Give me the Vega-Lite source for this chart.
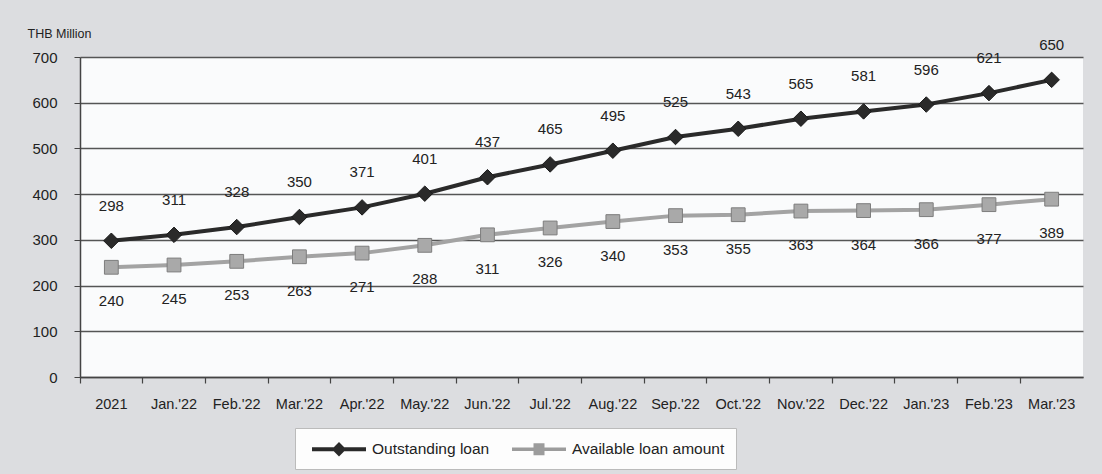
{
  "$schema": "https://vega.github.io/schema/vega-lite/v6.json",
  "width": 1003,
  "height": 320,
  "autosize": {"type": "none"},
  "padding": {"left": 80, "top": 57, "right": 19, "bottom": 97},
  "background": "#dcdde0",
  "config": {
    "font": "Liberation Sans",
    "view": {"fill": "#fafbfc", "stroke": null}
  },
  "data": {
    "values": [
      {"period": "2021", "series": "Outstanding loan", "value": 298},
      {"period": "Jan.'22", "series": "Outstanding loan", "value": 311},
      {"period": "Feb.'22", "series": "Outstanding loan", "value": 328},
      {"period": "Mar.'22", "series": "Outstanding loan", "value": 350},
      {"period": "Apr.'22", "series": "Outstanding loan", "value": 371},
      {"period": "May.'22", "series": "Outstanding loan", "value": 401},
      {"period": "Jun.'22", "series": "Outstanding loan", "value": 437},
      {"period": "Jul.'22", "series": "Outstanding loan", "value": 465},
      {"period": "Aug.'22", "series": "Outstanding loan", "value": 495},
      {"period": "Sep.'22", "series": "Outstanding loan", "value": 525},
      {"period": "Oct.'22", "series": "Outstanding loan", "value": 543},
      {"period": "Nov.'22", "series": "Outstanding loan", "value": 565},
      {"period": "Dec.'22", "series": "Outstanding loan", "value": 581},
      {"period": "Jan.'23", "series": "Outstanding loan", "value": 596},
      {"period": "Feb.'23", "series": "Outstanding loan", "value": 621},
      {"period": "Mar.'23", "series": "Outstanding loan", "value": 650},
      {"period": "2021", "series": "Available loan amount", "value": 240},
      {"period": "Jan.'22", "series": "Available loan amount", "value": 245},
      {"period": "Feb.'22", "series": "Available loan amount", "value": 253},
      {"period": "Mar.'22", "series": "Available loan amount", "value": 263},
      {"period": "Apr.'22", "series": "Available loan amount", "value": 271},
      {"period": "May.'22", "series": "Available loan amount", "value": 288},
      {"period": "Jun.'22", "series": "Available loan amount", "value": 311},
      {"period": "Jul.'22", "series": "Available loan amount", "value": 326},
      {"period": "Aug.'22", "series": "Available loan amount", "value": 340},
      {"period": "Sep.'22", "series": "Available loan amount", "value": 353},
      {"period": "Oct.'22", "series": "Available loan amount", "value": 355},
      {"period": "Nov.'22", "series": "Available loan amount", "value": 363},
      {"period": "Dec.'22", "series": "Available loan amount", "value": 364},
      {"period": "Jan.'23", "series": "Available loan amount", "value": 366},
      {"period": "Feb.'23", "series": "Available loan amount", "value": 377},
      {"period": "Mar.'23", "series": "Available loan amount", "value": 389}
    ]
  },
  "encoding": {
    "x": {
      "field": "period",
      "type": "ordinal",
      "sort": null,
      "scale": {"type": "band", "paddingInner": 0, "paddingOuter": 0},
      "axis": {
        "title": null,
        "labelAngle": 0,
        "bandPosition": 0,
        "labelFontSize": 14.5,
        "labelColor": "#222",
        "labelPadding": 14,
        "tickSize": 6,
        "tickColor": "#444",
        "tickWidth": 1.2,
        "domainColor": "#444",
        "domainWidth": 1.5,
        "grid": false
      }
    },
    "y": {
      "field": "value",
      "type": "quantitative",
      "scale": {"domain": [0, 700], "nice": false},
      "axis": {
        "title": "THB Million",
        "titleAngle": 0,
        "titleAlign": "left",
        "titleBaseline": "middle",
        "titleX": -53,
        "titleY": -24,
        "titleFontSize": 12.5,
        "titleFontWeight": "normal",
        "titleColor": "#222",
        "values": [0, 100, 200, 300, 400, 500, 600, 700],
        "labelFontSize": 15,
        "labelColor": "#222",
        "labelPadding": 17,
        "tickSize": 6,
        "tickColor": "#444",
        "domainColor": "#444",
        "domainWidth": 1.5,
        "gridColor": "#555",
        "gridWidth": 1.3
      }
    }
  },
  "layer": [
    {
      "mark": {"type": "line", "strokeWidth": 4},
      "encoding": {
        "color": {
          "field": "series",
          "type": "nominal",
          "scale": {"domain": ["Outstanding loan", "Available loan amount"], "range": ["#2a2a2a", "#a3a3a3"]},
          "legend": null
        }
      }
    },
    {
      "mark": {"type": "point", "filled": true, "opacity": 1, "strokeWidth": 1},
      "encoding": {
        "shape": {
          "field": "series",
          "type": "nominal",
          "scale": {"domain": ["Outstanding loan", "Available loan amount"], "range": ["diamond", "square"]},
          "legend": null
        },
        "size": {
          "field": "series",
          "type": "nominal",
          "scale": {"domain": ["Outstanding loan", "Available loan amount"], "range": [240, 190]},
          "legend": null
        },
        "fill": {
          "field": "series",
          "type": "nominal",
          "scale": {"domain": ["Outstanding loan", "Available loan amount"], "range": ["#2a2a2a", "#a9a9a9"]},
          "legend": null
        },
        "stroke": {
          "field": "series",
          "type": "nominal",
          "scale": {"domain": ["Outstanding loan", "Available loan amount"], "range": ["#1a1a1a", "#7d7d7d"]},
          "legend": null
        }
      }
    },
    {
      "transform": [{"filter": "datum.series === 'Outstanding loan'"}],
      "mark": {"type": "text", "dy": -35, "fontSize": 15, "color": "#222"},
      "encoding": {"text": {"field": "value", "type": "quantitative"}}
    },
    {
      "transform": [{"filter": "datum.series === 'Available loan amount'"}],
      "mark": {"type": "text", "dy": 34, "fontSize": 15, "color": "#222"},
      "encoding": {"text": {"field": "value", "type": "quantitative"}}
    },
    {
      "mark": {"type": "point", "opacity": 0},
      "encoding": {
        "shape": {
          "field": "series",
          "type": "nominal",
          "title": null,
          "scale": {
            "domain": ["Outstanding loan", "Available loan amount"],
            "range": [
              "M-2.7,-0.2H2.7V0.2H-2.7Z M0,-0.72L0.72,0L0,0.72L-0.72,0Z",
              "M-2.7,-0.17H2.7V0.17H-2.7Z M-0.55,-0.6H0.55V0.6H-0.55Z"
            ]
          },
          "legend": {
            "orient": "none",
            "legendX": 215,
            "legendY": 371,
            "direction": "horizontal",
            "fillColor": "#fdfdfd",
            "strokeColor": "#bbbbbb",
            "padding": 11,
            "symbolSize": 400,
            "symbolOffset": 23,
            "symbolOpacity": 1,
            "symbolStrokeWidth": 0,
            "labelFontSize": 15.5,
            "labelColor": "#222",
            "labelOffset": 23,
            "columnPadding": 16,
            "values": ["Outstanding loan", "Available loan amount"]
          }
        },
        "fill": {
          "field": "series",
          "type": "nominal",
          "scale": {"domain": ["Outstanding loan", "Available loan amount"], "range": ["#2a2a2a", "#9c9c9c"]},
          "legend": null
        }
      }
    }
  ],
  "resolve": {"scale": {"shape": "independent", "fill": "independent"}}
}
